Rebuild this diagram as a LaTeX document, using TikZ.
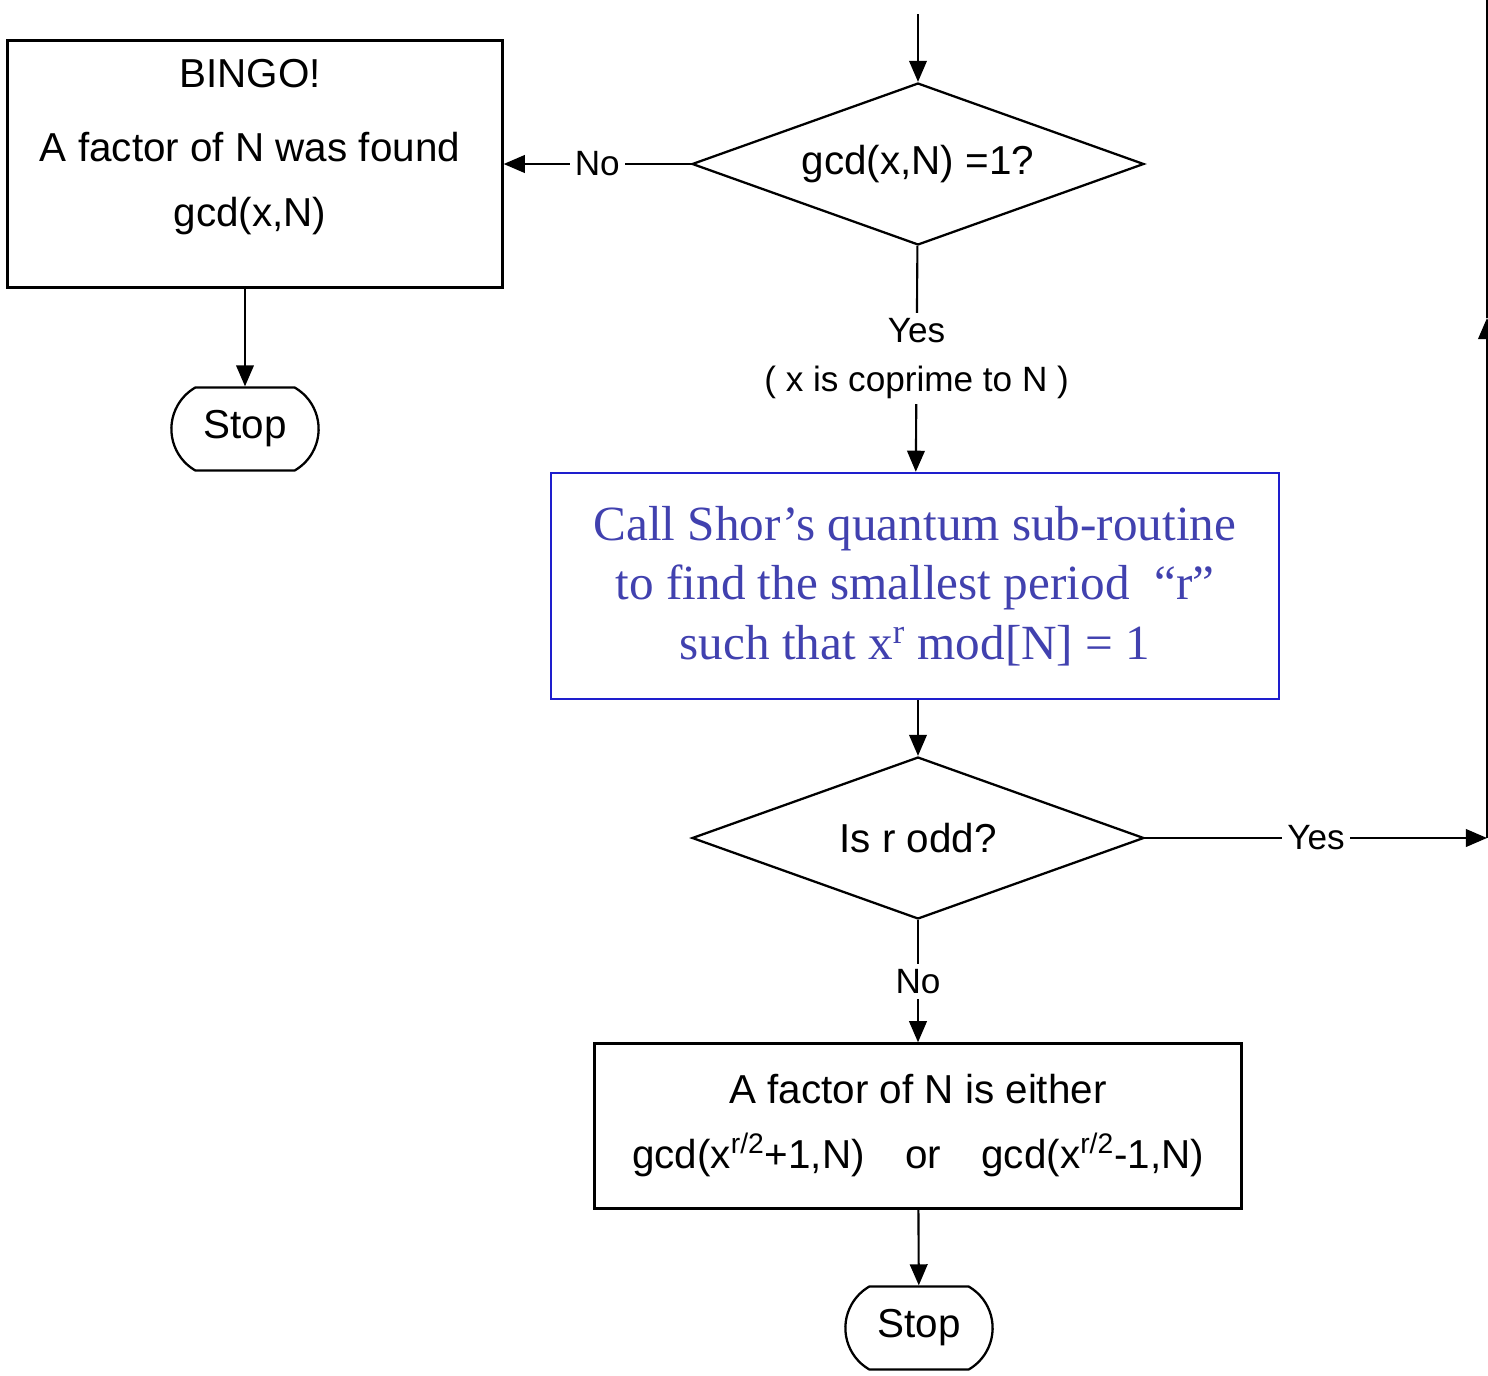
\documentclass[tikz,border=0pt]{standalone}
\usepackage{fontspec}
\setmainfont{Liberation Sans}
\newfontfamily\shorfont{Liberation Serif}
\usepackage{tikz}
\usetikzlibrary{shapes,arrows.meta,positioning}
\definecolor{shorblue}{RGB}{30,30,205}
\definecolor{shorink}{RGB}{65,65,175}

\begin{document}
\begin{tikzpicture}[x=0.02cm, y=-0.02cm,
    every node/.style={font=\fontsize{23}{37}\selectfont},
    box/.style={draw, line width=1.4pt, align=center, inner sep=0pt},
    decision/.style={diamond, draw, line width=1.3pt, aspect=2.8, inner sep=1pt,
        minimum width=9.04cm, minimum height=3.24cm},
    stopper/.style={rounded rectangle, rounded rectangle arc length=120, draw,
        line width=1.3pt, minimum width=3.18cm, minimum height=1.66cm},
    link/.style={line width=1.2pt, -{Triangle[length=12pt,width=10pt]}},
    tag/.style={fill=white, inner sep=3pt, align=center, font=\fontsize{20}{28}\selectfont}]
\useasboundingbox (0,0) rectangle (1488,1376);
% Main column
\coordinate (entry) at (918,14);
\node[decision] (coprime) at (918,164) {gcd(x,N) =1?};
\node[box, draw=shorblue, text=shorink, minimum width=14.56cm, minimum height=4.52cm,
    font=\shorfont\fontsize{28}{34}\selectfont] (shor) at (915,586)
    {Call Shor’s quantum sub-routine\\to find the smallest period ~“r”\\such that x\textsuperscript{r} mod[N] = 1};
\node[decision] (odd) at (918,838) {Is r odd?};
\node[box, minimum width=12.94cm, minimum height=3.3cm] (factor) at (918,1126)
    {A factor of N is either\\gcd(x\textsuperscript{r/2}+1,N)\quad or\quad gcd(x\textsuperscript{r/2}-1,N)};
\node[stopper] (stopB) at (919,1328) {Stop};
% Left branch
\node[box, minimum width=9.9cm, minimum height=4.94cm] (bingo) at (255,164) {};
\node[align=center] (bingotext) at (250,147) {BINGO!\\[5pt]A factor of N was found\\gcd(x,N)};
\node[stopper] (stopA) at (245,429) {Stop};
% Loop back on the right
\coordinate (loopb) at (1487,838);
\coordinate (loopm) at (1487,318);
\coordinate (loopt) at (1487,0);
% Draw connections
\draw[link] (entry) -- (coprime);
\draw[link] (coprime.west) -- node[tag] {No} (bingo.east);
\draw[link] (stopA |- bingo.south) -- (stopA.north);
\draw[link] (coprime) -- node[tag] {Yes\\( x is coprime to N )} (shor);
\draw[link] (odd |- shor.south) -- (odd.north);
\draw[link] (odd) -- node[tag] {No} (factor);
\draw[link] (factor) -- (stopB);
\draw[link] (odd.east) -- node[tag] {Yes} (loopb);
\draw[link] (loopb) -- (loopm);
\draw[line width=1.2pt] (loopm) -- (loopt);
\end{tikzpicture}
\end{document}
